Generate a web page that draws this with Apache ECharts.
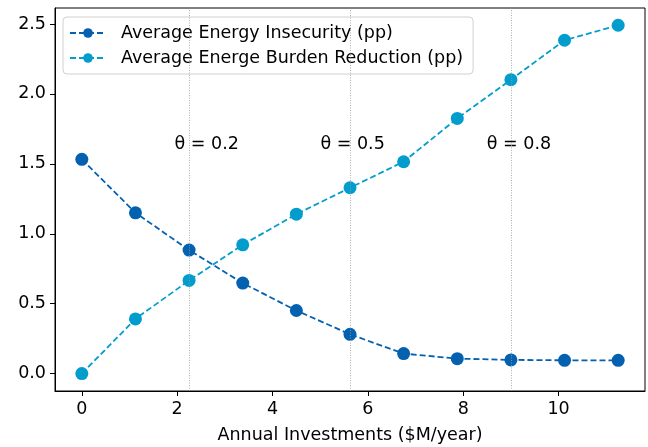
<!DOCTYPE html>
<html>
<head>
<meta charset="utf-8">
<script src="https://cdn.jsdelivr.net/npm/echarts@6/dist/echarts.min.js"></script>
<style>html,body{margin:0;padding:0;background:#fff;}#c{width:648px;height:447px;}</style>
</head>
<body>
<div id="c"></div>
<script>
const investments = [0, 1.125, 2.25, 3.375, 4.5, 5.625, 6.75, 7.875, 9, 10.125, 11.25];
const energyInsecurity = [1.532, 1.150, 0.883, 0.647, 0.451, 0.281, 0.143, 0.107, 0.098, 0.095, 0.095];
const burdenReduction = [0, 0.391, 0.666, 0.921, 1.140, 1.329, 1.515, 1.825, 2.102, 2.384, 2.491];
const thetaLines = [2.25, 5.625, 9];
const thetaLabels = ['θ = 0.2', 'θ = 0.5', 'θ = 0.8'];
const thetaLabelX = [2.62, 5.68, 9.17];
const thetaLabelY = 1.64;
const xTicks = [0, 2, 4, 6, 8, 10];
const yTicks = [0, 0.5, 1.0, 1.5, 2.0, 2.5];
const seriesNames = ['Average Energy Insecurity (pp)', 'Average Energe Burden Reduction (pp)'];

const FONT = 'DejaVu Sans';
const FS = 17.5;
const chart = echarts.init(document.getElementById('c'), null, {renderer: 'canvas'});
const pairs = ys => investments.map((x, i) => [x, ys[i]]);

chart.setOption({
  animation: false,
  backgroundColor: '#fff',
  textStyle: {fontFamily: FONT},
  grid: {left: 55, right: 3, top: 8, bottom: 56, containLabel: false, outerBoundsMode: 'none',
         show: true, borderColor: '#000', borderWidth: 1, backgroundColor: 'transparent'},
  legend: {
    orient: 'vertical', left: 63, top: 17,
    padding: [7, 10, 7, 6], itemGap: 7, itemWidth: 36, itemHeight: 12,
    backgroundColor: 'rgba(255,255,255,0.8)', borderColor: '#d0d0d0', borderWidth: 1, borderRadius: 4,
    textStyle: {fontFamily: FONT, fontSize: FS, color: '#000', padding: [0, 0, 0, 10]},
    data: seriesNames
  },
  xAxis: {
    type: 'value', min: -0.5625, max: 11.8125,
    name: 'Annual Investments ($M/year)', nameLocation: 'middle', nameGap: 35,
    nameTextStyle: {fontFamily: FONT, fontSize: FS, color: '#000'},
    axisLine: {show: true, onZero: false, lineStyle: {color: '#000', width: 1}},
    axisTick: {show: true, inside: false, length: 5, lineStyle: {color: '#000'}, customValues: xTicks},
    axisLabel: {color: '#000', fontFamily: FONT, fontSize: FS, margin: 9, customValues: xTicks, formatter: v => String(v)},
    splitLine: {show: false}
  },
  yAxis: {
    type: 'value', min: -0.1245, max: 2.6145,
    axisLine: {show: true, onZero: false, lineStyle: {color: '#000', width: 1}},
    axisTick: {show: true, inside: false, length: 5, lineStyle: {color: '#000'}, customValues: yTicks},
    axisLabel: {color: '#000', fontFamily: FONT, fontSize: FS, margin: 9, customValues: yTicks, formatter: v => v.toFixed(1)},
    splitLine: {show: false}
  },
  series: [
    {
      name: seriesNames[0], type: 'line', data: pairs(energyInsecurity),
      symbol: 'circle', symbolSize: 13, z: 3,
      lineStyle: {color: '#0461b0', width: 1.8, type: [6, 3]},
      itemStyle: {color: '#0461b0'},
      markLine: {
        silent: true, symbol: 'none', label: {show: false},
        lineStyle: {color: '#999999', width: 0.8, type: [1, 1.5]},
        data: thetaLines.map(x => ({xAxis: x}))
      }
    },
    {
      name: seriesNames[1], type: 'line', data: pairs(burdenReduction),
      symbol: 'circle', symbolSize: 13, z: 3,
      lineStyle: {color: '#029dcc', width: 1.8, type: [6, 3]},
      itemStyle: {color: '#029dcc'}
    },
    {
      type: 'scatter', symbolSize: 2, silent: true, z: 4,
      itemStyle: {color: '#fff', opacity: 0},
      data: thetaLabelX.map((x, i) => ({value: [x, thetaLabelY], name: thetaLabels[i]})),
      label: {show: true, position: 'inside', opacity: 1, formatter: p => p.name, color: '#000', fontFamily: FONT, fontSize: FS}
    }
  ]
});
</script>
</body>
</html>
